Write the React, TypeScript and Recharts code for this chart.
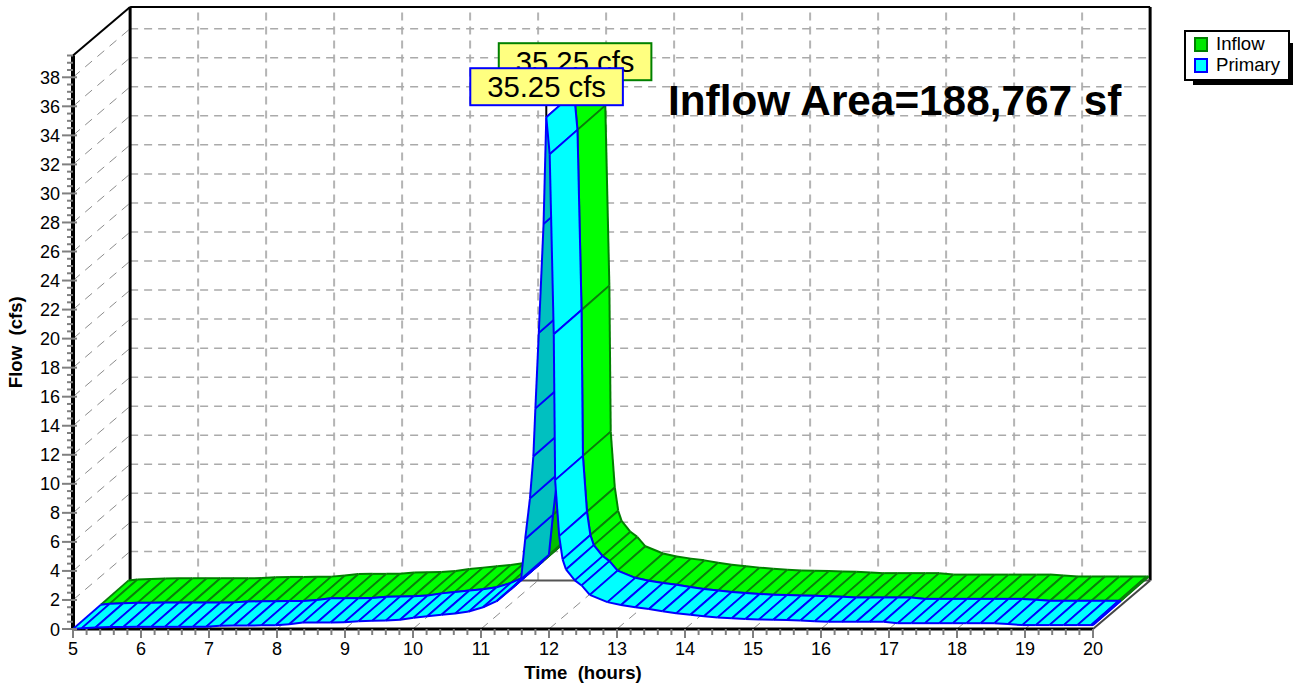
import {
  ComposedChart,
  Line,
  XAxis,
  YAxis,
  ReferenceLine,
  ReferenceDot,
} from "recharts";

const FONT = '"Liberation Sans", Arial, sans-serif';

// hours at which the hydrograph has a hatch line
const hours = [
  5, 5.13, 5.33, 5.54, 5.74, 5.94, 6.15, 6.35, 6.55, 6.76, 6.96, 7.16, 7.37, 7.57, 7.77, 7.98, 8.18, 8.38, 8.59, 8.79,
  8.99, 9.2, 9.4, 9.6, 9.81, 10.01, 10.21, 10.42, 10.62, 10.82, 11.03, 11.23, 11.43, 11.5, 11.59, 11.65, 11.72, 11.77,
  11.8, 11.85, 11.92, 11.96, 12.01, 12.07, 12.09, 12.15, 12.2, 12.25, 12.38, 12.48, 12.6, 12.86, 13.06, 13.27, 13.47,
  13.67, 13.87, 14.08, 14.28, 14.48, 14.69, 14.89, 15.09, 15.3, 15.5, 15.7, 15.91, 16.11, 16.31, 16.52, 16.72, 16.92,
  17.13, 17.33, 17.53, 17.74, 17.94, 18.14, 18.35, 18.55, 18.75, 18.96, 19.16, 19.36, 19.57, 19.77, 19.97, 20,
];
const inflowCfs = [
  0, 0.06, 0.1, 0.13, 0.14, 0.15, 0.15, 0.15, 0.15, 0.15, 0.16, 0.22, 0.24, 0.24, 0.25, 0.26, 0.33, 0.44, 0.45, 0.45,
  0.46, 0.54, 0.56, 0.58, 0.64, 0.78, 0.88, 0.98, 1.06, 1.2, 1.5, 1.92, 2.7, 3.0, 3.45, 6.2, 9.0, 11.9, 15.2, 20.4,
  27.9, 35.25, 32.7, 20.3, 10.25, 6.4, 4.8, 4.1, 3.35, 3.0, 2.35, 1.85, 1.65, 1.5, 1.38, 1.22, 1.08, 0.98, 0.88, 0.8,
  0.74, 0.69, 0.66, 0.64, 0.62, 0.59, 0.54, 0.5, 0.5, 0.5, 0.5, 0.5, 0.4, 0.4, 0.4, 0.4, 0.4, 0.4, 0.4, 0.4, 0.34,
  0.27, 0.27, 0.27, 0.27, 0.27, 0.27, 0.27,
];
const primaryCfs = [...inflowCfs];

const xMajor = [5, 6, 7, 8, 9, 10, 11, 12, 13, 14, 15, 16, 17, 18, 19, 20];
const yMajor = [0, 2, 4, 6, 8, 10, 12, 14, 16, 18, 20, 22, 24, 26, 28, 30, 32, 34, 36, 38];
const xTicks = Array.from({ length: 76 }, (_, i) => 5 + i / 5);
const yTicks = Array.from({ length: 80 }, (_, i) => i / 2);

const rows = hours.map((time, i) => ({ time, inflow: inflowCfs[i], primary: primaryCfs[i] }));

const Y_TOP = 39.5;
// how far the back wall sits behind the front axes, in axis units
const WALL_DX = 0.84;
const WALL_DY = 3.345;
// depth of one ribbon, in pixels
const RIBBON_DX = 27.8;
const RIBBON_DY = 24.3;

function ribbon(level: number, fill: string, shade: string, edge: string, hatch: string) {
  const ox = level * RIBBON_DX;
  const oy = -level * RIBBON_DY;
  return (props: any) => {
    const { index, points, cx, cy } = props;
    const p = { x: cx + ox, y: cy + oy };
    const next = points?.[index + 1];
    const bx = p.x + RIBBON_DX;
    const by = p.y - RIBBON_DY;
    const cross = <line x1={p.x} y1={p.y} x2={bx} y2={by} stroke={hatch} strokeWidth={1.8} />;
    if (!next) return <g key={index}>{cross}</g>;
    const q = { x: next.x + ox, y: next.y + oy };
    const qx = q.x + RIBBON_DX;
    const qy = q.y - RIBBON_DY;
    // a quad seen from behind (steep rising limb) gets the darker shade
    const facing = (q.x - p.x) * -RIBBON_DY - (q.y - p.y) * RIBBON_DX;
    return (
      <g key={index}>
        <polygon points={`${p.x},${p.y} ${q.x},${q.y} ${qx},${qy} ${bx},${by}`} fill={facing > 0 ? shade : fill} />
        <line x1={p.x} y1={p.y} x2={q.x} y2={q.y} stroke={edge} strokeWidth={2} />
        <line x1={bx} y1={by} x2={qx} y2={qy} stroke={edge} strokeWidth={2} />
        {cross}
        <line x1={q.x} y1={q.y} x2={qx} y2={qy} stroke={hatch} strokeWidth={1.8} />
      </g>
    );
  };
}

function XTick({ x, y, payload }: any) {
  const major = Number.isInteger(payload.value);
  return (
    <g>
      <line x1={x} y1={y} x2={x} y2={y + (major ? 9 : 6)} stroke="#808080" strokeWidth={2} />
      {major && (
        <text x={x} y={y + 26} textAnchor="middle" fontSize={18} fill="#000" fontFamily={FONT}>
          {payload.value}
        </text>
      )}
    </g>
  );
}

function YTick({ x, y, payload }: any) {
  const major = payload.value % 2 === 0;
  return (
    <g>
      <line x1={x - (major ? 11 : 6)} y1={y} x2={x + (major ? 4 : 0)} y2={y} stroke="#808080" strokeWidth={2} />
      {major && (
        <text x={x - 13} y={y + 6.5} textAnchor="end" fontSize={18} fill="#000" fontFamily={FONT}>
          {payload.value}
        </text>
      )}
    </g>
  );
}

function peakLabel(text: string, border: string, dx: number, dy: number) {
  return (props: any) => {
    const { viewBox } = props;
    const cx = viewBox.x + viewBox.width / 2;
    const cy = viewBox.y + viewBox.height / 2;
    return (
      <g>
        <rect x={cx + dx} y={cy + dy} width={152.6} height={37} fill="#ffff80" stroke={border} strokeWidth={2} />
        <text x={cx + dx + 76.3} y={cy + dy + 29} textAnchor="middle" fontSize={29.3} fill="#000" fontFamily={FONT}>
          {text}
        </text>
      </g>
    );
  };
}

function Legend() {
  const item = (name: string, fill: string, stroke: string, top: number) => (
    <>
      <div
        style={{
          position: "absolute",
          left: 8,
          top,
          width: 10,
          height: 11,
          background: fill,
          border: `2px solid ${stroke}`,
        }}
      />
      <div style={{ position: "absolute", left: 30, top: top - 4, fontSize: 18.6, lineHeight: "22px" }}>{name}</div>
    </>
  );
  return (
    <>
      <div style={{ position: "absolute", left: 1193, top: 43, width: 100, height: 42, background: "#000" }} />
      <div
        style={{
          position: "absolute",
          left: 1184,
          top: 30,
          width: 102,
          height: 47,
          background: "#fff",
          border: "2px solid #000",
          color: "#000",
          fontFamily: FONT,
        }}
      >
        {item("Inflow", "#00e800", "#008000", 5)}
        {item("Primary", "#00ffff", "#0000ff", 26)}
      </div>
    </>
  );
}

export default function App() {
  const wall = "#aaaaaa";
  const depth = "#8c8c8c";
  return (
    <div style={{ position: "absolute", left: 0, top: 0, width: 1294, height: 686, background: "#fff" }}>
      <ComposedChart
        width={1294}
        height={686}
        data={rows}
        margin={{ top: 55.5, right: 201, bottom: 0, left: 0 }}
      >
        <XAxis
          dataKey="time"
          type="number"
          domain={[5, 20]}
          ticks={xTicks}
          interval={0}
          tick={<XTick />}
          tickLine={false}
          tickSize={0}
          tickMargin={0}
          height={57}
          axisLine={{ stroke: "#000", strokeWidth: 3 }}
          label={{
            value: "Time\u00a0\u00a0(hours)",
            position: "insideBottom",
            offset: 7,
            style: { fontFamily: FONT, fontSize: 18.6, fontWeight: "bold", fill: "#000" },
          }}
        />
        <YAxis
          type="number"
          domain={[0, Y_TOP]}
          ticks={yTicks}
          interval={0}
          tick={<YTick />}
          tickLine={false}
          tickSize={0}
          tickMargin={0}
          width={73}
          axisLine={{ stroke: "#000", strokeWidth: 4 }}
          label={{
            value: "Flow\u00a0\u00a0(cfs)",
            angle: -90,
            position: "insideLeft",
            offset: 15,
            style: { fontFamily: FONT, fontSize: 18.6, fontWeight: "bold", fill: "#000", textAnchor: "middle" },
          }}
        />

        {/* back wall grid */}
        {xMajor.slice(1, -1).map((t) => (
          <ReferenceLine
            key={`wx${t}`}
            ifOverflow="visible"
            segment={[{ x: t + WALL_DX, y: WALL_DY }, { x: t + WALL_DX, y: Y_TOP + WALL_DY }]}
            stroke="#b4b4b4"
            strokeWidth={2}
            strokeDasharray="8 6"
          />
        ))}
        {yMajor.slice(1).map((v) => (
          <ReferenceLine
            key={`wy${v}`}
            ifOverflow="visible"
            segment={[{ x: 5 + WALL_DX, y: v + WALL_DY }, { x: 20 + WALL_DX, y: v + WALL_DY }]}
            stroke={wall}
            strokeWidth={1.5}
            strokeDasharray="8 6"
          />
        ))}
        {/* side wall and floor depth lines */}
        {yMajor.slice(1).map((v) => (
          <ReferenceLine
            key={`sy${v}`}
            ifOverflow="visible"
            segment={[{ x: 5, y: v }, { x: 5 + WALL_DX, y: v + WALL_DY }]}
            stroke={depth}
            strokeWidth={1}
            strokeDasharray="9 7"
          />
        ))}
        {xMajor.slice(1, -1).map((t) => (
          <ReferenceLine
            key={`fx${t}`}
            ifOverflow="visible"
            segment={[{ x: t, y: 0 }, { x: t + WALL_DX, y: WALL_DY }]}
            stroke={depth}
            strokeWidth={1}
            strokeDasharray="9 7"
          />
        ))}
        {/* wall outline */}
        <ReferenceLine ifOverflow="visible" segment={[{ x: 5 + WALL_DX, y: WALL_DY }, { x: 5 + WALL_DX, y: Y_TOP + WALL_DY }]} stroke="#000" strokeWidth={3} />
        <ReferenceLine ifOverflow="visible" segment={[{ x: 5 + WALL_DX, y: Y_TOP + WALL_DY }, { x: 20 + WALL_DX, y: Y_TOP + WALL_DY }]} stroke="#000" strokeWidth={2} />
        <ReferenceLine ifOverflow="visible" segment={[{ x: 20 + WALL_DX, y: WALL_DY }, { x: 20 + WALL_DX, y: Y_TOP + WALL_DY }]} stroke="#000" strokeWidth={3} />
        <ReferenceLine ifOverflow="visible" segment={[{ x: 5 + WALL_DX, y: WALL_DY }, { x: 20 + WALL_DX, y: WALL_DY }]} stroke="#555" strokeWidth={2} />
        <ReferenceLine ifOverflow="visible" segment={[{ x: 5, y: Y_TOP }, { x: 5 + WALL_DX, y: Y_TOP + WALL_DY }]} stroke="#000" strokeWidth={2} />
        <ReferenceLine ifOverflow="visible" segment={[{ x: 20, y: 0 }, { x: 20 + WALL_DX, y: WALL_DY }]} stroke="#444" strokeWidth={2} />

        <Line
          dataKey="inflow"
          name="Inflow"
          stroke="none"
          isAnimationActive={false}
          dot={ribbon(1, "#00ff00", "#00c000", "#008000", "#0b7d0b")}
          activeDot={false}
          legendType="none"
        />
        <Line
          dataKey="primary"
          name="Primary"
          stroke="none"
          isAnimationActive={false}
          dot={ribbon(0, "#00ffff", "#00c0c0", "#0000ff", "#0000ff")}
          activeDot={false}
          legendType="none"
        />

        <ReferenceLine ifOverflow="visible" segment={[{ x: 11.96, y: 35.25 }, { x: 11.96, y: 36.5 }]} stroke="#000" strokeWidth={2} />
        <ReferenceDot x={11.96} y={35.25} r={0} ifOverflow="visible" label={peakLabel("35.25 cfs", "#008000", -47.5, -74)} />
        <ReferenceDot x={11.96} y={35.25} r={0} ifOverflow="visible" label={peakLabel("35.25 cfs", "#0000ff", -76, -49)} />
      </ComposedChart>

      <div
        style={{
          position: "absolute",
          left: 668,
          top: 76,
          fontFamily: FONT,
          fontSize: 42.3,
          lineHeight: "50px",
          fontWeight: "bold",
          color: "#000",
          whiteSpace: "nowrap",
        }}
      >
        Inflow Area=188,767 sf
      </div>
      <Legend />
    </div>
  );
}
